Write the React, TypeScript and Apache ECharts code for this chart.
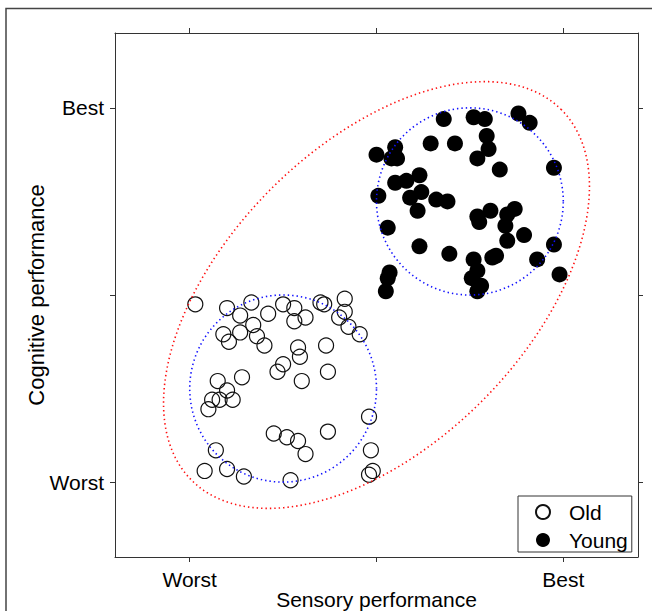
import React, { useEffect, useRef } from "react";
import * as echarts from "echarts";

// Tick positions and labels (data units: -1 = Worst, 1 = Best)
const xTickValues = [-1, 0, 1];
const xTickLabels = ["Worst", "", "Best"];
const yTickValues = [-1, 0, 1];
const yTickLabels = ["Worst", "", "Best"];

// Old group
const oldX = [
  -0.97, -0.8, -0.73, -0.67, -0.66, -0.82, -0.79, -0.73, -0.64, -0.6,
  -0.58, -0.5, -0.44, -0.44, -0.38, -0.3, -0.28, -0.17, -0.17, -0.2,
  -0.15, -0.09, -0.42, -0.41, -0.5, -0.53, -0.27, -0.26, -0.4, -0.72,
  -0.85, -0.8, -0.77, -0.84, -0.88, -0.9, -0.04, -0.55, -0.48, -0.42,
  -0.38, -0.26, -0.86, -0.03, -0.92, -0.8, -0.71, -0.46, -0.04, -0.02,
];
const oldY = [
  -0.05, -0.07, -0.11, -0.04, -0.16, -0.21, -0.25, -0.2, -0.22, -0.27,
  -0.1, -0.05, -0.07, -0.14, -0.12, -0.04, -0.05, -0.02, -0.09, -0.12,
  -0.17, -0.21, -0.28, -0.33, -0.37, -0.41, -0.27, -0.41, -0.46, -0.44,
  -0.46, -0.51, -0.56, -0.56, -0.56, -0.61, -0.65, -0.74, -0.76, -0.78,
  -0.85, -0.73, -0.83, -0.83, -0.94, -0.93, -0.97, -0.99, -0.96, -0.94,
];

// Young group
const youngX = [
  0.0, 0.1, 0.08, 0.11, 0.36, 0.52, 0.58, 0.76, 0.82, 0.29,
  0.42, 0.59, 0.6, 0.54, 0.66, 0.95, 0.1, 0.16, 0.23, 0.24,
  0.18, 0.22, 0.01, 0.32, 0.38, 0.54, 0.55, 0.61, 0.74, 0.7,
  0.69, 0.79, 0.7, 0.06, 0.23, 0.39, 0.52, 0.54, 0.51, 0.56,
  0.54, 0.62, 0.64, 0.86, 0.95, 0.98, 0.07, 0.06, 0.05,
];
const youngY = [
  0.75, 0.79, 0.73, 0.73, 0.94, 0.95, 0.94, 0.97, 0.92, 0.81,
  0.81, 0.85, 0.78, 0.73, 0.67, 0.68, 0.6, 0.61, 0.64, 0.55,
  0.52, 0.45, 0.53, 0.51, 0.5, 0.42, 0.39, 0.45, 0.46, 0.43,
  0.37, 0.32, 0.29, 0.36, 0.26, 0.22, 0.19, 0.13, 0.09, 0.05,
  0.02, 0.2, 0.21, 0.19, 0.27, 0.11, 0.12, 0.09, 0.02,
];

// Group ellipses: centre, semi-axes, rotation (degrees)
const groupEllipseCx = [-0.5, 0.5];
const groupEllipseCy = [-0.5, 0.5];
const groupEllipseA = [0.5, 0.5];
const groupEllipseB = [0.5, 0.5];
const groupEllipseAngle = [0, 0];

const allEllipseCx = [0];
const allEllipseCy = [0];
const allEllipseA = [1.4];
const allEllipseB = [0.8];
const allEllipseAngle = [45];

const FONT = "Liberation Sans, Arial, Helvetica, sans-serif";

function zip(xs: number[], ys: number[]) {
  return xs.map((x, i) => [x, ys[i]]);
}

function ellipseData(cx: number[], cy: number[], a: number[], b: number[], ang: number[]) {
  return cx.map((c, i) => [c, cy[i], a[i], b[i], ang[i]]);
}

function makeEllipseRender(stroke: string) {
  return (params: any, api: any) => {
    const cx = api.value(0);
    const cy = api.value(1);
    const a = api.value(2);
    const b = api.value(3);
    const th = (api.value(4) * Math.PI) / 180;
    const pts: number[][] = [];
    const n = 240;
    for (let k = 0; k <= n; k++) {
      const t = (k / n) * Math.PI * 2;
      const u = a * Math.cos(t);
      const v = b * Math.sin(t);
      const x = cx + u * Math.cos(th) - v * Math.sin(th);
      const y = cy + u * Math.sin(th) + v * Math.cos(th);
      pts.push(api.coord([x, y]));
    }
    return {
      type: "polyline",
      shape: { points: pts },
      style: {
        stroke,
        fill: null,
        lineWidth: 1.6,
        lineDash: [1.4, 3],
      },
      silent: true,
    };
  };
}

export default function App() {
  const ref = useRef<HTMLDivElement>(null);

  useEffect(() => {
    if (!ref.current) return;
    const chart = echarts.init(ref.current, null, { renderer: "svg" });
    const axisLineStyle = { color: "#333", width: 1 };
    const option: any = {
      animation: false,
      backgroundColor: "#fff",
      graphic: [
        {
          type: "rect",
          shape: { x: 6, y: 8.5, width: 800, height: 800 },
          style: { fill: "none", stroke: "#444", lineWidth: 1.5 },
          silent: true,
          z: -10,
        },
      ],
      grid: {
        left: 115,
        top: 33,
        width: 523,
        height: 524,
        containLabel: false,
        outerBoundsMode: "none",
      },
      legend: {
        data: ["Old", "Young"],
        orient: "vertical",
        left: 518,
        top: 496,
        icon: "circle",
        itemWidth: 42,
        itemHeight: 14,
        itemGap: 6,
        padding: [5, 4, 1, 17],
        borderColor: "#333",
        borderWidth: 1,
        backgroundColor: "#fff",
        textStyle: { fontSize: 21, lineHeight: 22, color: "#000", fontFamily: FONT },
        z: 10,
      },
      xAxis: [
        {
          type: "value",
          position: "bottom",
          min: -1.4,
          max: 1.4,
          name: "Sensory performance",
          nameLocation: "middle",
          nameGap: 32,
          nameMoveOverlap: false,
          nameTextStyle: { fontSize: 21, color: "#000", fontFamily: FONT },
          axisLine: { show: true, onZero: false, lineStyle: axisLineStyle },
          axisTick: { show: true, inside: false, length: 5, customValues: xTickValues, lineStyle: axisLineStyle },
          axisLabel: {
            customValues: xTickValues.filter((_, i) => xTickLabels[i] !== ""),
            formatter: (v: number) => xTickLabels[xTickValues.indexOf(v)] ?? "",
            fontSize: 21,
            color: "#000",
            fontFamily: FONT,
            margin: 12,
          },
          splitLine: { show: false },
        },
        {
          type: "value",
          position: "top",
          min: -1.4,
          max: 1.4,
          axisLine: { show: true, onZero: false, lineStyle: axisLineStyle },
          axisTick: { show: true, inside: false, length: 5, customValues: xTickValues, lineStyle: axisLineStyle },
          axisLabel: { show: false },
          splitLine: { show: false },
        },
      ],
      yAxis: [
        {
          type: "value",
          position: "left",
          min: -1.4,
          max: 1.4,
          name: "Cognitive performance",
          nameLocation: "middle",
          nameGap: 68,
          nameMoveOverlap: false,
          nameTextStyle: { fontSize: 22, color: "#000", fontFamily: FONT },
          axisLine: { show: true, onZero: false, lineStyle: axisLineStyle },
          axisTick: { show: true, inside: false, length: 5, customValues: yTickValues, lineStyle: axisLineStyle },
          axisLabel: {
            customValues: yTickValues.filter((_, i) => yTickLabels[i] !== ""),
            formatter: (v: number) => yTickLabels[yTickValues.indexOf(v)] ?? "",
            fontSize: 21,
            color: "#000",
            fontFamily: FONT,
            margin: 11,
          },
          splitLine: { show: false },
        },
        {
          type: "value",
          position: "right",
          min: -1.4,
          max: 1.4,
          axisLine: { show: true, onZero: false, lineStyle: axisLineStyle },
          axisTick: { show: true, inside: false, length: 5, customValues: yTickValues, lineStyle: axisLineStyle },
          axisLabel: { show: false },
          splitLine: { show: false },
        },
      ],
      series: [
        {
          name: "Old",
          type: "scatter",
          xAxisIndex: 0,
          yAxisIndex: 0,
          data: zip(oldX, oldY),
          symbol: "circle",
          symbolSize: 15,
          itemStyle: { color: "rgba(255,255,255,0)", borderColor: "#111", borderWidth: 1.2, opacity: 1 },
          emphasis: { disabled: true },
          z: 2,
        },
        {
          name: "Young",
          type: "scatter",
          xAxisIndex: 0,
          yAxisIndex: 0,
          data: zip(youngX, youngY),
          symbol: "circle",
          symbolSize: 16,
          itemStyle: { color: "#000", opacity: 1 },
          emphasis: { disabled: true },
          z: 2,
        },
        {
          name: "groupEllipses",
          type: "custom",
          xAxisIndex: 0,
          yAxisIndex: 0,
          data: ellipseData(groupEllipseCx, groupEllipseCy, groupEllipseA, groupEllipseB, groupEllipseAngle),
          renderItem: makeEllipseRender("#1010ff"),
          z: 3,
          silent: true,
        },
        {
          name: "allEllipse",
          type: "custom",
          xAxisIndex: 0,
          yAxisIndex: 0,
          data: ellipseData(allEllipseCx, allEllipseCy, allEllipseA, allEllipseB, allEllipseAngle),
          renderItem: makeEllipseRender("#ff1010"),
          z: 3,
          silent: true,
        },
      ],
    };
    chart.setOption(option);
    return () => chart.dispose();
  }, []);

  return (
    <div
      ref={ref}
      style={{ position: "fixed", left: 0, top: 0, width: 652, height: 611, background: "#fff" }}
    />
  );
}
